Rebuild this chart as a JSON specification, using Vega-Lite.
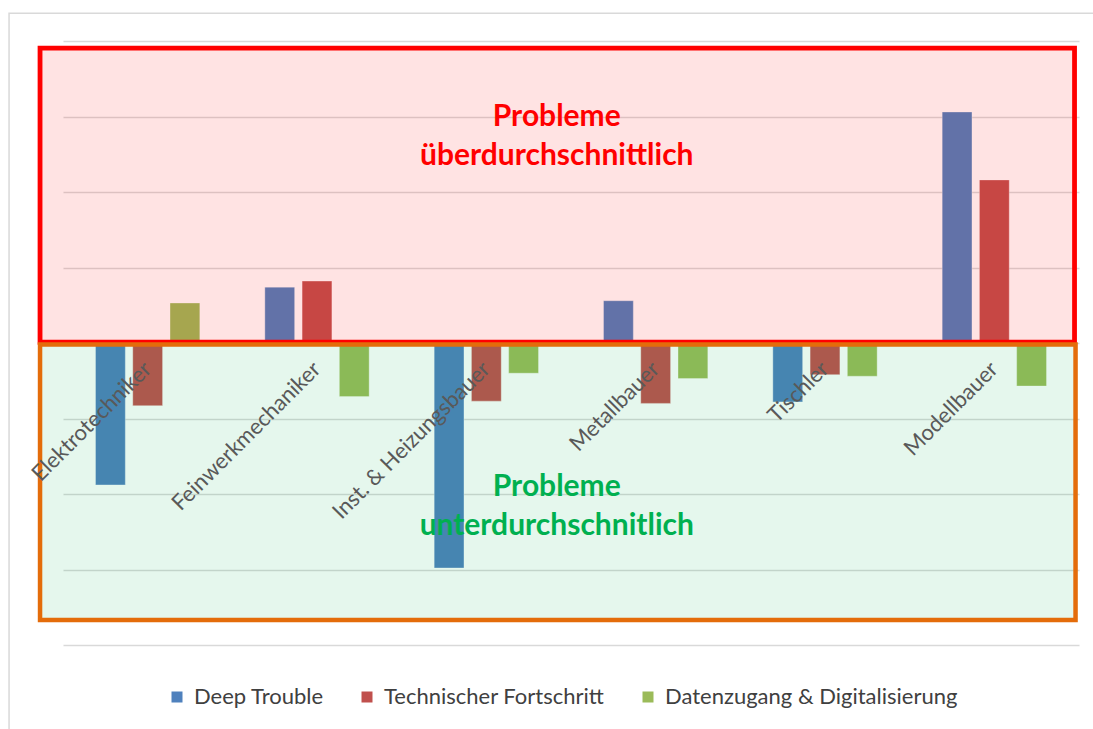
{
  "$schema": "https://vega.github.io/schema/vega-lite/v6.json",
  "width": 1016,
  "height": 604,
  "autosize": {"type": "none"},
  "padding": {"left": 63, "top": 41, "right": 14, "bottom": 84},
  "background": "white",
  "config": {"view": {"stroke": null}, "font": "Lato"},
  "datasets": {
    "bars": [
      {"category": "Elektrotechniker", "series": "Deep Trouble", "value": -1.88},
      {"category": "Elektrotechniker", "series": "Technischer Fortschritt", "value": -0.83},
      {"category": "Elektrotechniker", "series": "Datenzugang & Digitalisierung", "value": 0.53},
      {"category": "Feinwerkmechaniker", "series": "Deep Trouble", "value": 0.74},
      {"category": "Feinwerkmechaniker", "series": "Technischer Fortschritt", "value": 0.82},
      {"category": "Feinwerkmechaniker", "series": "Datenzugang & Digitalisierung", "value": -0.71},
      {"category": "Inst. & Heizungsbauer", "series": "Deep Trouble", "value": -2.98},
      {"category": "Inst. & Heizungsbauer", "series": "Technischer Fortschritt", "value": -0.77},
      {"category": "Inst. & Heizungsbauer", "series": "Datenzugang & Digitalisierung", "value": -0.40},
      {"category": "Metallbauer", "series": "Deep Trouble", "value": 0.56},
      {"category": "Metallbauer", "series": "Technischer Fortschritt", "value": -0.80},
      {"category": "Metallbauer", "series": "Datenzugang & Digitalisierung", "value": -0.47},
      {"category": "Tischler", "series": "Deep Trouble", "value": -0.78},
      {"category": "Tischler", "series": "Technischer Fortschritt", "value": -0.42},
      {"category": "Tischler", "series": "Datenzugang & Digitalisierung", "value": -0.44},
      {"category": "Modellbauer", "series": "Deep Trouble", "value": 3.06},
      {"category": "Modellbauer", "series": "Technischer Fortschritt", "value": 2.16},
      {"category": "Modellbauer", "series": "Datenzugang & Digitalisierung", "value": -0.57}
    ],
    "zones": [
      {"zone": "above", "x1": -0.0226, "x2": 0.9956, "y1": 3.905, "y2": 0.01},
      {"zone": "below", "x1": -0.0226, "x2": 0.9966, "y1": -0.02, "y2": -3.67}
    ],
    "notes": [
      {"zone": "above", "label": "Probleme\nüberdurchschnittlich", "x": 0.486, "y": 2.99},
      {"zone": "below", "label": "Probleme\nunterdurchschnitlich", "x": 0.486, "y": -1.91}
    ],
    "frame": [
      {"x1": -0.0531, "x2": 1.2, "y1": 4.368, "y2": -6}
    ]
  },
  "resolve": {"scale": {"x": "independent"}},
  "layer": [
    {
      "data": {"name": "bars"},
      "mark": {"type": "bar", "stroke": "white", "strokeOpacity": 0.35, "strokeWidth": 1},
      "encoding": {
        "x": {"field": "category", "type": "nominal", "sort": null,
              "scale": {"paddingInner": 0.34, "paddingOuter": 0.17}, "axis": null},
        "xOffset": {"field": "series", "type": "nominal", "sort": null,
                    "scale": {"paddingInner": 0.2, "paddingOuter": 0.1}},
        "y": {"field": "value", "type": "quantitative",
              "scale": {"domain": [-4, 4], "nice": false},
              "axis": {"values": [-4, -3, -2, -1, 0, 1, 2, 3, 4], "labels": false, "ticks": false,
                       "domain": false, "title": null, "grid": true, "gridColor": "#D9D9D9", "gridWidth": 1.5}},
        "color": {"field": "series", "type": "nominal", "sort": null,
                  "scale": {"domain": ["Deep Trouble", "Technischer Fortschritt", "Datenzugang & Digitalisierung"],
                            "range": ["#4F81BD", "#C0504D", "#9BBB59"]},
                  "legend": {"orient": "none", "legendX": 103, "legendY": 645, "direction": "horizontal", "title": null,
                             "symbolType": "square", "symbolSize": 121, "symbolStrokeWidth": 0,
                             "labelFont": "Lato", "labelFontSize": 22, "labelColor": "#404040", "labelLimit": 0,
                             "columnPadding": 32, "symbolOffset": 0, "labelOffset": 6}}
      }
    },
    {
      "data": {"name": "zones"},
      "transform": [{"filter": "datum.zone === 'above'"}],
      "mark": {"type": "rect", "fill": "#FF0000", "fillOpacity": 0.11, "stroke": "#FF0000", "strokeWidth": 4.8, "clip": false},
      "encoding": {
        "x": {"field": "x1", "type": "quantitative", "scale": {"domain": [0, 1], "nice": false, "zero": false}, "axis": null},
        "x2": {"field": "x2"},
        "y": {"field": "y1", "type": "quantitative"},
        "y2": {"field": "y2"}
      }
    },
    {
      "data": {"name": "zones"},
      "transform": [{"filter": "datum.zone === 'below'"}],
      "mark": {"type": "rect", "fill": "#00B050", "fillOpacity": 0.1, "stroke": "#E46C0A", "strokeWidth": 4.5, "clip": false},
      "encoding": {
        "x": {"field": "x1", "type": "quantitative", "scale": {"domain": [0, 1], "nice": false, "zero": false}, "axis": null},
        "x2": {"field": "x2"},
        "y": {"field": "y1", "type": "quantitative"},
        "y2": {"field": "y2"}
      }
    },
    {
      "data": {"name": "frame"},
      "mark": {"type": "rect", "fill": null, "fillOpacity": 0, "stroke": "#D9D9D9", "strokeWidth": 1.5, "clip": false},
      "encoding": {
        "x": {"field": "x1", "type": "quantitative", "scale": {"domain": [0, 1], "nice": false, "zero": false}, "axis": null},
        "x2": {"field": "x2"},
        "y": {"field": "y1", "type": "quantitative"},
        "y2": {"field": "y2"}
      }
    },
    {
      "data": {"name": "notes"},
      "transform": [{"filter": "datum.zone === 'above'"}],
      "mark": {"type": "text", "font": "Lato", "fontWeight": "bold", "fontSize": 30, "lineHeight": 39, "color": "#FF0000",
               "align": "center", "baseline": "middle", "lineBreak": "\n"},
      "encoding": {
        "x": {"field": "x", "type": "quantitative", "scale": {"domain": [0, 1], "nice": false, "zero": false}, "axis": null},
        "y": {"field": "y", "type": "quantitative"},
        "text": {"field": "label"}
      }
    },
    {
      "data": {"name": "notes"},
      "transform": [{"filter": "datum.zone === 'below'"}],
      "mark": {"type": "text", "font": "Lato", "fontWeight": "bold", "fontSize": 30, "lineHeight": 39, "color": "#00B050",
               "align": "center", "baseline": "middle", "lineBreak": "\n"},
      "encoding": {
        "x": {"field": "x", "type": "quantitative", "scale": {"domain": [0, 1], "nice": false, "zero": false}, "axis": null},
        "y": {"field": "y", "type": "quantitative"},
        "text": {"field": "label"}
      }
    },
    {
      "data": {"name": "bars"},
      "transform": [{"filter": "datum.series === 'Deep Trouble'"}],
      "mark": {"type": "text", "font": "Lato", "fontSize": 22, "color": "#595959", "angle": -45,
               "align": "right", "baseline": "middle"},
      "encoding": {
        "x": {"field": "category", "type": "nominal", "sort": null, "axis": null},
        "y": {"datum": -0.3},
        "text": {"field": "category"}
      }
    }
  ]
}
